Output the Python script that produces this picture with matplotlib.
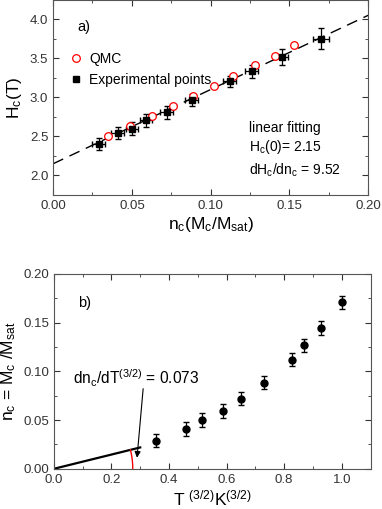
import numpy as np
import matplotlib.pyplot as plt
from matplotlib.lines import Line2D
from matplotlib.ticker import MultipleLocator

plt.rcParams['font.family'] = ['Liberation Sans', 'DejaVu Sans']
plt.rcParams['mathtext.fontset'] = 'custom'
plt.rcParams['mathtext.rm'] = 'Liberation Sans'
plt.rcParams['mathtext.it'] = 'Liberation Sans'

# panel a data
exp_n = [0.029, 0.041, 0.050, 0.059, 0.072, 0.088, 0.112, 0.126, 0.145, 0.170]
exp_h = [2.40, 2.545, 2.60, 2.705, 2.81, 2.97, 3.21, 3.335, 3.52, 3.755]
exp_nerr = [0.004, 0.004, 0.004, 0.004, 0.004, 0.004, 0.004, 0.004, 0.004, 0.005]
exp_herr = [0.08, 0.08, 0.08, 0.08, 0.08, 0.08, 0.07, 0.08, 0.10, 0.13]
qmc_n = [0.035, 0.0485, 0.063, 0.076, 0.089, 0.102, 0.114, 0.128, 0.141, 0.153]
qmc_h = [2.51, 2.638, 2.767, 2.895, 3.015, 3.152, 3.28, 3.413, 3.538, 3.67]
fit_h0 = 2.15
fit_slope = 9.52

# panel b data
t32 = [0.354, 0.458, 0.514, 0.586, 0.651, 0.730, 0.826, 0.869, 0.927, 1.0]
nc = [0.029, 0.041, 0.050, 0.0595, 0.072, 0.0885, 0.112, 0.1265, 0.1446, 0.1706]
nc_err = [0.007, 0.007, 0.007, 0.007, 0.007, 0.007, 0.007, 0.007, 0.007, 0.007]
slope_b = 0.073

fig = plt.figure(figsize=(3.82, 5.09), dpi=100)
ax1 = fig.add_axes([0.139, 0.617, 0.825, 0.383])
ax2 = fig.add_axes([0.141, 0.079, 0.829, 0.383])

for ax in (ax1, ax2):
    ax.tick_params(which='both', direction='in', top=True, right=True, labelsize=9.5, colors='#333333')
    ax.tick_params(which='major', length=4)
    ax.tick_params(which='minor', length=2)
    for s in ax.spines.values():
        s.set_color('#555555')

# panel a
xf = np.array([0.0, 0.2])
ax1.plot(xf, fit_h0 + fit_slope * xf, color='black', lw=1, dashes=(8, 5))
ax1.errorbar(exp_n, exp_h, xerr=exp_nerr, yerr=exp_herr, fmt='s', color='black',
             ms=5, capsize=2.5, elinewidth=0.9)
ax1.plot(qmc_n, qmc_h, 'o', mfc='white', mec='red', ms=5.5, mew=0.9)
ax1.set_xlim(0, 0.2)
ax1.set_ylim(1.75, 4.25)
ax1.xaxis.set_major_locator(MultipleLocator(0.05))
ax1.xaxis.set_minor_locator(MultipleLocator(0.025))
ax1.yaxis.set_major_locator(MultipleLocator(0.5))
ax1.yaxis.set_minor_locator(MultipleLocator(0.25))
ax1.xaxis.set_major_formatter(plt.FormatStrFormatter('%.2f'))
ax1.yaxis.set_major_formatter(plt.FormatStrFormatter('%.1f'))
ax1.set_xlabel(r'n$_\mathrm{c}$(M$_\mathrm{c}$/M$_\mathrm{sat}$)', fontsize=12.5, labelpad=2)
ax1.set_ylabel(r'H$_\mathrm{c}$(T)', fontsize=12.5, labelpad=4)
ax1.text(0.076, 0.86, 'a)', transform=ax1.transAxes, fontsize=10.5, va='center')
handles = [Line2D([], [], ls='', marker='o', mfc='white', mec='red', ms=5.5, mew=0.9),
           Line2D([], [], ls='', marker='s', color='black', ms=5)]
ax1.legend(handles, ['QMC', 'Experimental points'], loc='upper left', bbox_to_anchor=(0.03, 0.76),
           frameon=False, fontsize=10, handletextpad=0.3, borderaxespad=0, labelspacing=0.45,
           handlelength=1.2)
ax1.text(0.622, 0.343, 'linear fitting', transform=ax1.transAxes, fontsize=10, va='center')
ax1.text(0.622, 0.245, r'H$_\mathrm{c}$(0)= 2.15', transform=ax1.transAxes, fontsize=10, va='center')
ax1.text(0.622, 0.125, r'dH$_\mathrm{c}$/dn$_\mathrm{c}$ = 9.52', transform=ax1.transAxes, fontsize=10,
         va='center')

# panel b
ax2.errorbar(t32, nc, yerr=nc_err, fmt='o', color='black', ms=5, capsize=2.5, elinewidth=0.9)
xl = np.array([0.0, 0.3])
ax2.plot(xl, slope_b * xl, color='black', lw=1.6)
# red angle arc, drawn round the origin in screen-proportional units
ax2_w, ax2_h = 0.829 * 382, 0.383 * 509
sx, sy = ax2_w / 1.1, ax2_h / 0.2
phi = np.linspace(0, np.arctan(slope_b * sy / sx), 30)
r_px = 0.274 * sx
ax2.plot(r_px * np.cos(phi) / sx, r_px * np.sin(phi) / sy, color='red', lw=1)
ax2.annotate('', xy=(0.288, 0.0085), xytext=(0.311, 0.085),
             arrowprops=dict(arrowstyle='-|>', color='black', lw=0.8, mutation_scale=9))
ax2.text(0.065, 0.093, r'dn$_\mathrm{c}$/dT$^{(3/2)}$ = 0.073', fontsize=11.2, va='center')
ax2.text(0.084, 0.170, 'b)', fontsize=10.5, va='center')
ax2.set_xlim(0, 1.1)
ax2.set_ylim(0, 0.2)
ax2.xaxis.set_major_locator(MultipleLocator(0.2))
ax2.xaxis.set_minor_locator(MultipleLocator(0.1))
ax2.yaxis.set_major_locator(MultipleLocator(0.05))
ax2.yaxis.set_minor_locator(MultipleLocator(0.025))
ax2.xaxis.set_major_formatter(plt.FormatStrFormatter('%.1f'))
ax2.yaxis.set_major_formatter(plt.FormatStrFormatter('%.2f'))
ax2.set_xlabel(r'T $^{(3/2)}$K$^{(3/2)}$', fontsize=12.5, labelpad=2)
ax2.set_ylabel(r'n$_\mathrm{c}$ = M$_\mathrm{c}$ /M$_\mathrm{sat}$', fontsize=12.5, labelpad=4)

fig.savefig('out.png', dpi=100)
